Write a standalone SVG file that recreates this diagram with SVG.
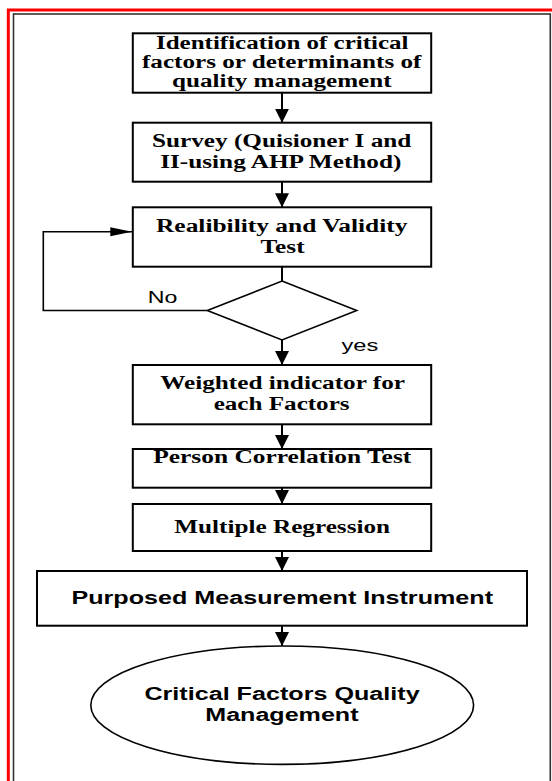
<svg xmlns="http://www.w3.org/2000/svg" width="552" height="781" viewBox="0 0 552 781">
<style>
.box{fill:#fff;stroke:#000;stroke-width:2}
.dia{fill:#fff;stroke:#000;stroke-width:1.6}
.con{fill:none;stroke:#000;stroke-width:2}
.loop{fill:none;stroke:#000;stroke-width:1.6}
.ser{font-family:"Liberation Serif","Times New Roman",serif;font-weight:bold;font-size:18.5px;fill:#000}
.san{font-family:"Liberation Sans",Arial,sans-serif;font-weight:bold;font-size:17.5px;fill:#000}
.lab{font-family:"Liberation Sans",Arial,sans-serif;font-size:16px;fill:#000}
</style>
<defs>
<marker id="ah" markerUnits="userSpaceOnUse" markerWidth="14" markerHeight="14" refX="14" refY="7" orient="auto">
<path d="M0,0 L14,7 L0,14 z" fill="#000"/>
</marker>
<marker id="ahl" markerUnits="userSpaceOnUse" markerWidth="22" markerHeight="10" refX="22" refY="5" orient="auto">
<path d="M0,0.5 L22,5 L0,9.5 z" fill="#000"/>
</marker>
</defs>
<rect x="0" y="0" width="552" height="781" fill="#fff"/>
<rect x="8.3" y="10" width="560" height="800" fill="none" stroke="#ff0000" stroke-width="3"/>
<rect x="13.5" y="14" width="536.8" height="800" fill="none" stroke="#333" stroke-width="1.6"/>

<g id="connectors">
<line class="con" x1="282" y1="92.7" x2="282" y2="122.7" marker-end="url(#ah)"/>
<line class="con" x1="282" y1="181.7" x2="282" y2="207.3" marker-end="url(#ah)"/>
<line class="con" x1="282" y1="266.7" x2="282" y2="281"/>
<line class="con" x1="282" y1="340" x2="282" y2="365" marker-end="url(#ah)"/>
<line class="con" x1="282" y1="424.3" x2="282" y2="449" marker-end="url(#ah)"/>
<line class="con" x1="282" y1="487.7" x2="282" y2="504" marker-end="url(#ah)"/>
<line class="con" x1="282" y1="551" x2="282" y2="571" marker-end="url(#ah)"/>
<line class="con" x1="282" y1="625.7" x2="282" y2="646" marker-end="url(#ah)"/>
<polyline class="loop" points="207.3,310.5 43.3,310.5 43.3,231.7 132.3,231.7" marker-end="url(#ahl)"/>
<text class="lab" x="147.7" y="303.3" textLength="29.6" lengthAdjust="spacingAndGlyphs">No</text>
<text class="lab" x="341.5" y="350.5" textLength="36.8" lengthAdjust="spacingAndGlyphs">yes</text>
</g>

<g id="n1">
<rect class="box" x="132.8" y="33.3" width="298.4" height="59.4"/>
<text class="ser" x="156" y="48.6" textLength="252.5" lengthAdjust="spacingAndGlyphs">Identification of critical</text>
<text class="ser" x="142" y="68" textLength="279.5" lengthAdjust="spacingAndGlyphs">factors or determinants of</text>
<text class="ser" x="172" y="86.8" textLength="219.5" lengthAdjust="spacingAndGlyphs">quality management</text>
</g>

<g id="n2">
<rect class="box" x="132.8" y="122.7" width="298.4" height="59"/>
<text class="ser" x="152" y="146.7" textLength="259.3" lengthAdjust="spacingAndGlyphs">Survey (Quisioner I and</text>
<text class="ser" x="160.2" y="168" textLength="241.2" lengthAdjust="spacingAndGlyphs">II-using AHP Method)</text>
</g>

<g id="n3">
<rect class="box" x="132.8" y="207.3" width="298.4" height="59.4"/>
<text class="ser" x="156" y="232.3" textLength="251.4" lengthAdjust="spacingAndGlyphs">Realibility and Validity</text>
<text class="ser" x="260.6" y="252.7" textLength="44" lengthAdjust="spacingAndGlyphs">Test</text>
</g>

<g id="n4">
<polygon class="dia" points="282,281 356.7,310.5 282,340 207.3,310.5"/>
</g>

<g id="n5">
<rect class="box" x="132.8" y="365" width="298.4" height="59.3"/>
<text class="ser" x="160.2" y="389.3" textLength="244.8" lengthAdjust="spacingAndGlyphs">Weighted indicator for</text>
<text class="ser" x="213.7" y="410" textLength="135.9" lengthAdjust="spacingAndGlyphs">each Factors</text>
</g>

<g id="n6">
<rect class="box" x="132.8" y="449" width="298.4" height="38.7"/>
<text class="ser" x="153.2" y="462.7" textLength="258.1" lengthAdjust="spacingAndGlyphs">Person Correlation Test</text>
</g>

<g id="n7">
<rect class="box" x="132.8" y="504" width="298.4" height="47"/>
<text class="ser" x="174.3" y="533.3" textLength="215.8" lengthAdjust="spacingAndGlyphs">Multiple Regression</text>
</g>

<g id="n8">
<rect class="box" x="37" y="571" width="490" height="54.7"/>
<text class="san" x="71.5" y="604.3" textLength="421.5" lengthAdjust="spacingAndGlyphs">Purposed Measurement Instrument</text>
</g>

<g id="n9">
<ellipse cx="282.2" cy="705.2" rx="191.4" ry="59.2" fill="#fff" stroke="#000" stroke-width="1.6"/>
<text class="san" x="144.4" y="700" textLength="275.3" lengthAdjust="spacingAndGlyphs">Critical Factors Quality</text>
<text class="san" x="205.3" y="721" textLength="153.2" lengthAdjust="spacingAndGlyphs">Management</text>
</g>
</svg>
